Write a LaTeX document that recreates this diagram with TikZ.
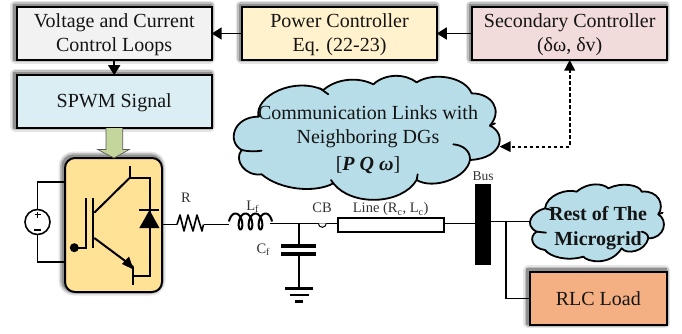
\documentclass[tikz,border=0pt]{standalone}
\usepackage{fontspec}
\setmainfont{Liberation Serif}
\usetikzlibrary{arrows.meta,calc}
\definecolor{txt}{HTML}{141414}
\definecolor{lbl}{HTML}{333333}
\definecolor{cloudblue}{HTML}{B7DDE8}
\definecolor{greenarrow}{RGB}{195,214,155}
\newcommand{\dnl}[1]{\raisebox{-1.5pt}[\height][\depth]{#1}}
\tikzset{
  softshadow/.style={
    preaction={draw=black,draw opacity=.10,line width=10pt,line join=round,transform canvas={xshift=-1.5pt,yshift=1.5pt}},
    preaction={draw=black,draw opacity=.16,line width=7pt,line join=round,transform canvas={xshift=-1.5pt,yshift=1.5pt}},
    preaction={draw=black,draw opacity=.25,line width=4pt,transform canvas={xshift=-1.5pt,yshift=1.5pt}}},
  block/.style={softshadow,draw=black,line width=2pt,minimum width=194pt,minimum height=53pt,inner sep=0pt,outer sep=0pt,
    align=center,text=txt,font=\fontsize{20}{24}\selectfont},
  wire/.style={draw=black,line width=1.6pt},
  thick wire/.style={draw=black,line width=2pt},
  sig/.style={draw=black,line width=1.7pt,-{Triangle[length=10pt,width=12pt]}},
  cloudshape/.style={draw=black,line width=1.8pt,fill=cloudblue,line join=round},
  cloudtail/.style={draw=black,line width=1.8pt,line cap=round},
  lab/.style={text=lbl,font=\fontsize{14.5}{16}\selectfont,inner sep=0pt},
}
\begin{document}
\begin{tikzpicture}[x=1pt,y=-1pt]
\useasboundingbox (0,0) rectangle (682,333);
% control blocks
\node[block,fill=black!5,minimum width=195pt] (volt) at (114.2,33.5) {\dnl{Voltage and Current}\\\dnl{Control Loops}};
\node[block,fill={rgb,255:red,255;green,242;blue,204},minimum width=194.5pt] (power) at (339.5,33.5) {\dnl{Power Controller}\\\dnl{Eq. (22-23)}};
\node[block,fill={rgb,255:red,242;green,220;blue,219},minimum width=194.5pt] (second) at (569.7,33.5) {\dnl{Secondary Controller}\\\dnl{(δω, δv)}};
\node[block,fill={rgb,255:red,218;green,238;blue,243},minimum width=195pt] (spwm) at (114.2,101.7) {\dnl{SPWM Signal}};
\node[block,fill={rgb,255:red,244;green,176;blue,131},minimum width=136.7pt] (rlc) at (598.3,298.4) {RLC Load};
\draw[sig] (power.west) -- (volt.east);
\draw[sig] (second.west) -- (power.east);
\draw[sig] (volt.south) -- (spwm.north);
% communication cloud
\begin{scope}[shift={(225,65)},x=0.3333pt,y=-0.3333pt]
\draw[cloudshape] (100,155) .. controls (90,90) and (210,35) .. (295,75)
 .. controls (335,40) and (400,35) .. (445,58)
 .. controls (480,25) and (540,25) .. (575,52)
 .. controls (625,20) and (720,35) .. (740,85)
 .. controls (800,85) and (835,135) .. (795,182)
 .. controls (845,205) and (835,280) .. (735,285)
 .. controls (725,340) and (625,375) .. (575,345)
 .. controls (530,420) and (380,425) .. (325,355)
 .. controls (270,385) and (165,375) .. (110,328)
 .. controls (60,335) and (25,285) .. (50,255)
 .. controls (5,230) and (25,155) .. (100,155) -- cycle;
\draw[cloudtail] (285,70) -- (310,88);
\draw[cloudtail] (795,182) -- (810,175);
\draw[cloudtail] (735,285) .. controls (737,255) and (710,240) .. (685,238);
\draw[cloudtail] (575,345) -- (578,328);
\draw[cloudtail] (325,355) -- (318,345);
\draw[cloudtail] (50,255) .. controls (70,260) and (90,260) .. (110,257);
\draw[cloudtail] (100,155) -- (106,150);
\coordinate (commedge) at (824,245);
\end{scope}
\node[text=txt,align=center,inner sep=0pt,font=\fontsize{20}{24}\selectfont] (comm) at (368,140) {Communication Links with\\Neighboring DGs\\[3pt][\textbf{\textit{P Q ω}}]};
% rest of microgrid cloud
\begin{scope}[shift={(520,175)},x=0.3333pt,y=-0.3333pt]
\draw[cloudshape] (75,100) .. controls (80,60) and (140,40) .. (170,50)
 .. controls (205,20) and (250,25) .. (265,40)
 .. controls (305,20) and (360,30) .. (365,50)
 .. controls (415,45) and (435,90) .. (415,118)
 .. controls (445,135) and (435,190) .. (385,190)
 .. controls (375,230) and (320,240) .. (305,220)
 .. controls (270,275) and (200,260) .. (190,245)
 .. controls (140,260) and (90,245) .. (75,225)
 .. controls (35,220) and (25,185) .. (50,170)
 .. controls (10,150) and (35,110) .. (75,100) -- cycle;
\draw[cloudtail] (75,100) -- (95,105);
\draw[cloudtail] (415,118) -- (428,113);
\draw[cloudtail] (385,190) .. controls (385,178) and (375,172) .. (365,170);
\draw[cloudtail] (50,170) -- (78,173);
\coordinate (restedge) at (30,140);
\end{scope}
\node[text=txt,align=center,inner sep=0pt,font=\fontsize{20}{25}\selectfont\bfseries] (rest) at (598,228) {Rest of The\\Microgrid};
% dotted link
\coordinate (linkcorner) at (second.south |- commedge);
\draw[line width=1.7pt,dash pattern=on 3.5pt off 2.5pt] ($(second.south)+(0,9)$) -- (linkcorner) -- ($(commedge)+(9,0)$);
\fill[black] (second.south) -- ++(-5.5,10.5) -- ++(11,0) -- cycle;
\fill[black] (commedge) -- ++(11,-5.5) -- ++(0,11) -- cycle;
% inverter
\node[softshadow,draw=black,line width=2pt,rounded corners=10pt,fill={rgb,255:red,255;green,226;blue,150},minimum width=97pt,minimum height=134pt,inner sep=0pt,outer sep=0pt] (inv) at (113.5,225) {};
\draw[draw=black!65,line width=.7pt,fill=greenarrow] (spwm.south -| 106,0) -- (106,149.5) -- (97.7,149.5) -- (inv.north -| 114,0) -- (129.3,149.5) -- (122.7,149.5) -- (spwm.south -| 122.7,0);
% IGBT
\coordinate (cTop) at (129.5,166); \coordinate (cJ) at (129.5,178); \coordinate (dTop) at (149.5,178);
\coordinate (dBot) at (149.5,275.5); \coordinate (eJ) at (133.3,275.5); \coordinate (eTop) at (133.3,267); \coordinate (eBot) at (133.3,285);
\draw[thick wire] (cTop) -- (cJ) -- (dTop) -- (dBot) -- (eJ);
\draw[thick wire] (eTop) -- (eBot);
\draw[thick wire] (86,198) -- (86,247.7) -- (78,247.7);
\draw[thick wire] (93.3,198) -- (93.3,248);
\draw[thick wire] (94.3,212.7) -- (cJ);
\draw[thick wire] (94.3,238) -- (eTop);
\fill[black] (133.5,269.5) -- (122,264) -- (129,256.5) -- cycle;
\fill[black] (74.3,247.7) circle (4.5);
% diode
\draw[thick wire] (139.3,210) -- (159.3,210);
\fill[black] (149.5,210) -- (159.5,228) -- (139.3,228) -- cycle;
% dc source
\coordinate (srcT) at (37.5,181.7); \coordinate (srcB) at (37.5,261.7);
\node[draw=black,line width=1.6pt,circle,minimum size=25pt,inner sep=0pt,outer sep=0pt] (src) at (37.5,222) {};
\draw[wire] (inv.west |- srcT) -- (srcT) -- (src.north);
\draw[wire] (inv.west |- srcB) -- (srcB) -- (src.south);
\draw[line width=1.4pt] (34.5,214.5) -- (40.5,214.5) (37.5,211.5) -- (37.5,217.5);
\draw[line width=1.6pt] (34,230) -- (41,230);
% power path
\coordinate (rIn) at (177,224.5); \coordinate (rOut) at (203.5,224.5);
\draw[wire] (inv.east |- rIn) -- (rIn);
\draw[wire,line join=round] (rIn) -- (180,215) -- (184,231) -- (188,215) -- (193,231) -- (197,215) -- (202,231) -- (rOut);
\coordinate (lIn) at (229,224.5);
\draw[wire] (rOut) -- (lIn);
\draw[line width=2pt] plot[domain=-90:1170,samples=120] ({235.5+10*\x/360+4*sin(\x)},{221.5-8*cos(\x)});
\coordinate (lOut) at (269.5,223.3);
\coordinate (capTop) at (298.7,223.3);
\node[draw=black,line width=1.8pt,fill=white,minimum width=106.3pt,minimum height=14pt,inner sep=0pt,outer sep=0pt] (linebox) at (390.8,224.7) {};
\node[fill=black,minimum width=16pt,minimum height=81pt,inner sep=0pt,outer sep=0pt] (bus) at (483,224.5) {};
\coordinate (lineL) at (linebox.west |- capTop);
\coordinate (lineR) at (linebox.east |- capTop);
\draw[wire] (lOut) -- (capTop) -- (lineL);
\draw[line width=1pt,fill=white] (318.3,223.3) arc[start angle=180,end angle=0,radius=4];
\draw[wire] (lineR) -- (bus.west |- lineR);
% capacitor and ground
\coordinate (p1) at (298.7,246); \coordinate (p2) at (298.7,253.7); \coordinate (g1) at (298.7,288.5);
\draw[wire] (capTop) -- (p1);
\draw[line width=3.8pt] (281,246) -- (316.3,246);
\draw[line width=3.8pt] (281,253.7) -- (316.3,253.7);
\draw[line width=2.4pt] (p2) -- (g1);
\draw[line width=2.4pt] (285,288.5) -- (312.5,288.5);
\draw[line width=2.4pt] (289.5,295) -- (308.5,295);
\draw[line width=2.6pt] (295,301.3) -- (302.5,301.3);
% load side
\coordinate (busR) at (bus.east |- restedge);
\coordinate (branch) at (506,222);
\draw[wire] (busR) -- (restedge);
\draw[wire] (branch) |- (rlc.west);
% labels
\node[lab] (lr) at (186,197.7) {R};
\node[lab] (ll) at (252.7,207) {L\textsubscript{f}};
\node[lab] (lcb) at (322,207.5) {CB};
\node[lab] (lline) at (390.7,209.5) {Line (R\textsubscript{c}, L\textsubscript{c})};
\node[lab] (lc) at (263.3,249.5) {C\textsubscript{f}};
\node[lab,font=\fontsize{13.5}{15}\selectfont] (lbus) at (483,176.5) {Bus};
\end{tikzpicture}
\end{document}
